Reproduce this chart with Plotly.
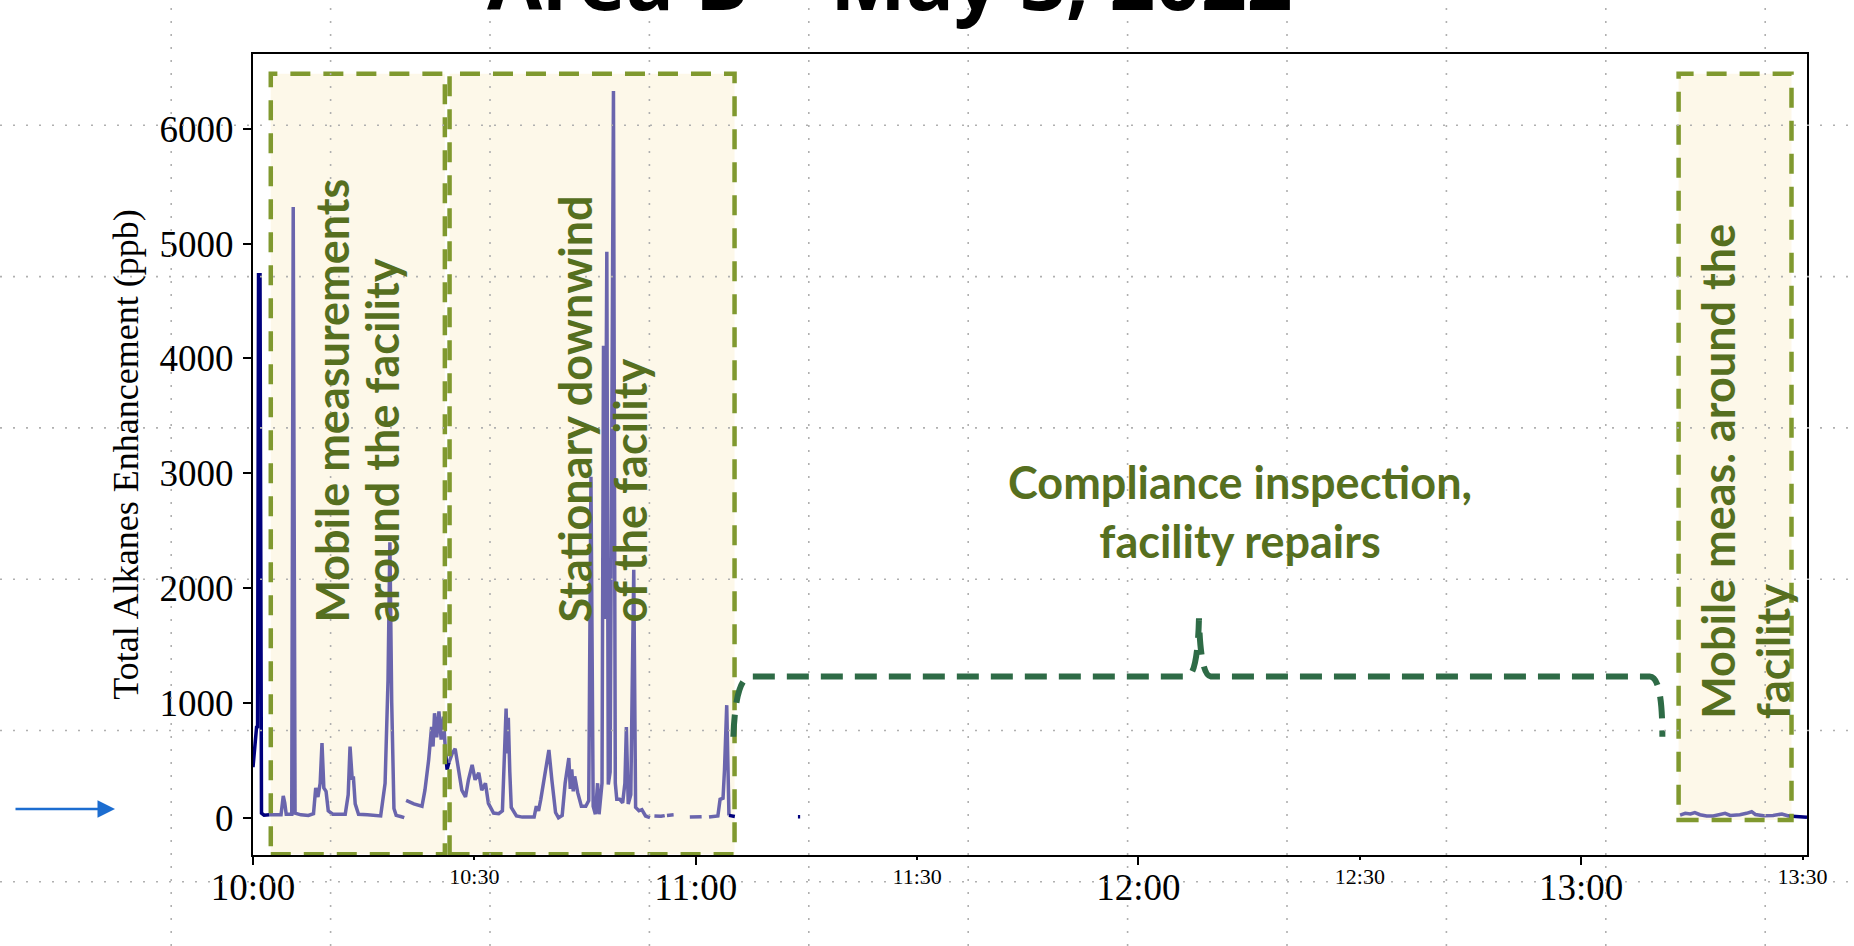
import plotly.graph_objects as go

# ---------------- data (time = minutes after 10:00, values = ppb) ----------------
purple_time = [
    2.2, 3.0, 3.8, 4.1, 4.3, 4.5, 5.25, 5.45, 5.7, 6.5, 7.5, 8.2, 8.5, 8.8, 9.1, 9.35, 9.6, 9.9,
    10.2, 10.8, 11.5, 12.5, 12.9, 13.15, 13.45, 13.6, 13.85, 14.3, 15.5, 16.5, 17.3, 17.9, 18.3,
    18.55, 18.8, 19.1, 19.4, 20.0, 20.5,
    None,
    20.75, 21.8, 22.9, 23.3, 23.8, 24.2, 24.4, 24.6, 24.9, 25.2, 25.5, 25.8, 26.1,
    None,
    26.55, 27.0, 27.4, 27.9, 28.3, 28.8, 29.2, 29.7, 30.1, 30.6, 31.0, 31.5, 31.9, 32.6, 33.3,
    33.8, 34.1, 34.3, 34.45, 34.6, 34.8, 35.0, 35.7, 36.5, 37.5, 38.1, 38.4, 38.7, 39.0, 39.4,
    40.1, 40.5, 41.0, 41.4, 41.9, 42.3, 42.8, 43.0, 43.2, 43.4, 43.6, 44.0, 44.5, 45.1, 45.5,
    45.8, 46.1, 46.4, 46.7, 46.9, 47.3, 47.5, 47.7, 47.95, 48.15, 48.4, 48.85, 49.1, 49.3, 49.7,
    50.1, 50.4, 50.6, 50.85, 51.2, 51.6, 51.85, 52.3, 52.7, 53.2, 53.8,
    None,
    54.4, 55.3, 55.8,
    None,
    56.1, 57.0,
    None,
    59.2, 60.8,
    None,
    61.8, 63.0, 63.3, 63.7, 63.9, 64.2, 64.5,
    None,
    193.4, 194.1, 194.8, 195.4, 196.1, 197.0, 197.9, 198.8, 199.5, 200.2, 201.5, 202.4, 203.1,
    203.6, 204.7, 206.0, 207.2, 208.1,
]
purple_ppb = [
    25, 22, 25, 190, 130, 30, 30, 5320, 40, 25, 20, 35, 260, 180, 300, 650, 260, 230,
    60, 30, 28, 30, 200, 620, 330, 360, 120, 30, 25, 20, 15, 300, 1200,
    2400, 1000, 80, 20, 10, 0,
    None,
    150, 120, 100, 240, 500, 790, 620, 910, 700, 925, 680, 880, 560,
    None,
    480, 560, 600, 390, 240, 180, 330, 460, 330, 390, 240, 300, 125, 40, 35,
    60, 500, 950, 560, 870, 400, 90, 15, 5, 5, 5, 100, 60, 160, 330,
    590, 330, 45, 0, 20, 300, 520, 250, 420, 230, 360, 220, 100, 100, 150,
    2970, 100, 30, 300, 30, 300, 4110, 1730, 4930, 290, 400, 6330, 300, 160, 160,
    130, 300, 790, 120, 200, 2160, 90, 60, 70, 15, 0,
    None,
    15, 12, 18,
    None,
    20, 25,
    None,
    5, 8,
    None,
    5, 15, 160, 170, 420, 980, 20,
    None,
    23, 38, 32, 44, 26, 15, 15, 26, 38, 20, 26, 38, 52,
    28, 17, 20, 32, 15,
]

navy_time = [0.0, 0.25, 0.5, 0.62, 0.75, 0.95, 1.15, 1.5, 2.2, None,
             26.1, 26.3, 26.55, None,
             64.5, 65.3, None,
             73.85, 74.15, None,
             208.1, 210.6]
navy_ppb = [440, 620, 800, 780, 4730, 4730, 40, 22, 25, None,
            560, 420, 480, None,
            20, 10, None,
            8, 8, None,
            15, 4]

assert len(purple_time) == len(purple_ppb), (len(purple_time), len(purple_ppb))
assert len(navy_time) == len(navy_ppb)

hour_ticks = [0, 60, 120, 180]
hour_labels = ["10:00", "11:00", "12:00", "13:00"]
half_ticks = [30, 90, 150, 210]
half_labels = ["10:30", "11:30", "12:30", "13:30"]
y_ticks = [0, 1000, 2000, 3000, 4000, 5000, 6000]

# measurement periods: (start min, end min, bottom ppb, top ppb)
period_start = [2.41, 26.64, 193.2]
period_end = [26.0, 65.26, 208.5]
period_bottom = [-318, -318, -20]
period_top = [6480, 6480, 6480]

# period labels (rotated, two lines each)
label_line1 = ["Mobile measurements", "Stationary downwind", "Mobile meas. around the"]
label_line2 = ["around the facility", "of the facility", "facility"]
label_line1_x = [10.74, 43.59, 198.54]
label_line2_x = [17.47, 51.12, 205.91]
label_bottom_ppb = [1684, 1684, 840]

# compliance inspection brace (minutes, ppb)
brace_left, brace_tip, brace_right = 65.1, 128.2, 191.0
brace_end_ppb, brace_level_ppb, brace_tip_ppb = 705, 1230, 1737

# ---------------- layout geometry ----------------
W, H = 1854, 946
ML, MR, MT, MB = 253, 47, 54, 91
PW, PH = W - ML - MR, H - MT - MB
X_RANGE = [0, 210.6]
Y_RANGE = [-325, 6652]

def px_to_paper_x(px):
    return (px - ML) / PW

def px_to_paper_y(py):
    return (H - MB - py) / PH

PURPLE = "#6a65ad"
NAVY = "#00007d"
BOX_FILL = "#fdf8e9"
BOX_LINE = "#80992f"
TEXT_GREEN = "#566f1f"
BRACE = "#2e6b46"
SERIF = "Liberation Serif, Times New Roman, serif"
SANS = "Lato, Calibri, sans-serif"

fig = go.Figure()

fig.add_trace(go.Scatter(x=purple_time, y=purple_ppb, mode="lines",
                         line=dict(color=PURPLE, width=3.5), connectgaps=False,
                         showlegend=False, hoverinfo="skip"))
fig.add_trace(go.Scatter(x=navy_time, y=navy_ppb, mode="lines",
                         line=dict(color=NAVY, width=3.5), connectgaps=False,
                         showlegend=False, hoverinfo="skip"))
# dummy trace to activate the half-hour label axis
fig.add_trace(go.Scatter(x=[X_RANGE[0], X_RANGE[1]], y=[None, None], xaxis="x2",
                         mode="lines", showlegend=False, hoverinfo="skip"))

shapes = []
for x0, x1, y0, y1 in zip(period_start, period_end, period_bottom, period_top):
    shapes.append(dict(type="rect", xref="x", yref="y", x0=x0, x1=x1, y0=y0, y1=y1,
                       fillcolor=BOX_FILL, line=dict(width=0), layer="below"))
for x0, x1, y0, y1 in zip(period_start, period_end, period_bottom, period_top):
    shapes.append(dict(type="rect", xref="x", yref="y", x0=x0, x1=x1, y0=y0, y1=y1,
                       fillcolor="rgba(0,0,0,0)",
                       line=dict(color=BOX_LINE, width=4.5, dash="20px,13px"), layer="above"))

# curly brace
path = (f"M {brace_left},{brace_end_ppb} "
        f"Q {brace_left + 0.3},{brace_level_ppb} {brace_left + 2.4},{brace_level_ppb} "
        f"L {brace_tip - 1.6},{brace_level_ppb} "
        f"Q {brace_tip - 0.2},{brace_level_ppb + 10} {brace_tip},{brace_tip_ppb} "
        f"Q {brace_tip + 0.2},{brace_level_ppb + 10} {brace_tip + 1.6},{brace_level_ppb} "
        f"L {brace_right - 1.7},{brace_level_ppb} "
        f"Q {brace_right},{brace_level_ppb} {brace_right},{brace_end_ppb}")
shapes.append(dict(type="path", xref="x", yref="y", path=path,
                   line=dict(color=BRACE, width=6, dash="22px,12px"), layer="above"))

# slide guide dotted grid (decorative, whole canvas)
grid_x_px = [171.2 + 159.4 * k for k in range(11)]
grid_y_px = [125.3 + 151.3 * k for k in range(6)]
for gx in grid_x_px:
    shapes.append(dict(type="line", xref="paper", yref="paper",
                       x0=px_to_paper_x(gx), x1=px_to_paper_x(gx),
                       y0=px_to_paper_y(H), y1=px_to_paper_y(0),
                       line=dict(color="#b0b0b0", width=1.6, dash="2px,11px"), layer="above"))
for gy in grid_y_px:
    shapes.append(dict(type="line", xref="paper", yref="paper",
                       x0=px_to_paper_x(0), x1=px_to_paper_x(W),
                       y0=px_to_paper_y(gy), y1=px_to_paper_y(gy),
                       line=dict(color="#b0b0b0", width=1.6, dash="2px,11px"), layer="above"))

annotations = []
label_font = dict(family=SANS, size=45, color=TEXT_GREEN, weight="bold")
for l1, l2, x1, x2, yb in zip(label_line1, label_line2, label_line1_x, label_line2_x,
                              label_bottom_ppb):
    for txt, xx in ((l1, x1), (l2, x2)):
        annotations.append(dict(text=txt, x=xx, y=yb, xref="x", yref="y",
                                xanchor="center", yanchor="bottom", textangle=-90,
                                showarrow=False, font=label_font))
annotations.append(dict(text="Compliance inspection,<br>facility repairs", x=133.7, y=2663,
                        xref="x", yref="y", xanchor="center", yanchor="middle",
                        align="center", showarrow=False, font=label_font))
# cropped slide title
annotations.append(dict(text="Area B \u2013 May 3, 2022", x=px_to_paper_x(890), y=px_to_paper_y(35),
                        xref="paper", yref="paper", xanchor="center", yanchor="bottom",
                        showarrow=False,
                        font=dict(family="Open Sans, sans-serif", size=80, color="black", weight="bold")))
# blue arrow pointing at the zero line
annotations.append(dict(text="", x=px_to_paper_x(115), y=px_to_paper_y(809),
                        xref="paper", yref="paper", ax=-101, ay=0, axref="pixel", ayref="pixel",
                        showarrow=True, arrowhead=2, arrowsize=1.4, arrowwidth=2.5,
                        arrowcolor="#1c6dd0"))

fig.update_layout(
    width=W, height=H, autosize=False,
    margin=dict(l=ML, r=MR, t=MT, b=MB, pad=0),
    paper_bgcolor="white", plot_bgcolor="white",
    shapes=shapes, annotations=annotations,
    xaxis=dict(range=X_RANGE, tickmode="array", tickvals=hour_ticks, ticktext=hour_labels,
               showgrid=False, zeroline=False, showline=True, linecolor="black", linewidth=2,
               mirror=True, ticks="outside", ticklen=8, tickwidth=1.5, tickcolor="black",
               ticklabelstandoff=-9,
               tickfont=dict(family=SERIF, size=37, color="black")),
    xaxis2=dict(range=X_RANGE, overlaying="x", anchor="y", side="bottom",
                tickmode="array", tickvals=half_ticks, ticktext=half_labels,
                showgrid=False, zeroline=False, showline=False,
                ticks="outside", ticklen=4, tickwidth=1.5, tickcolor="black",
                ticklabelstandoff=-2,
                tickfont=dict(family=SERIF, size=22, color="black")),
    yaxis=dict(range=Y_RANGE, tickmode="array", tickvals=y_ticks,
               showgrid=False, zeroline=False, showline=True, linecolor="black", linewidth=2,
               mirror=True, ticks="outside", ticklen=8, tickwidth=1.5, tickcolor="black",
               ticklabelstandoff=2,
               tickfont=dict(family=SERIF, size=37, color="black"),
               title=dict(text="Total Alkanes Enhancement (ppb)",
                          font=dict(family=SERIF, size=36, color="black"), standoff=10)),
)

fig.write_html("out.html", config={"displayModeBar": False},
               post_script="document.body.style.margin='0px';document.body.style.overflow='hidden';")
